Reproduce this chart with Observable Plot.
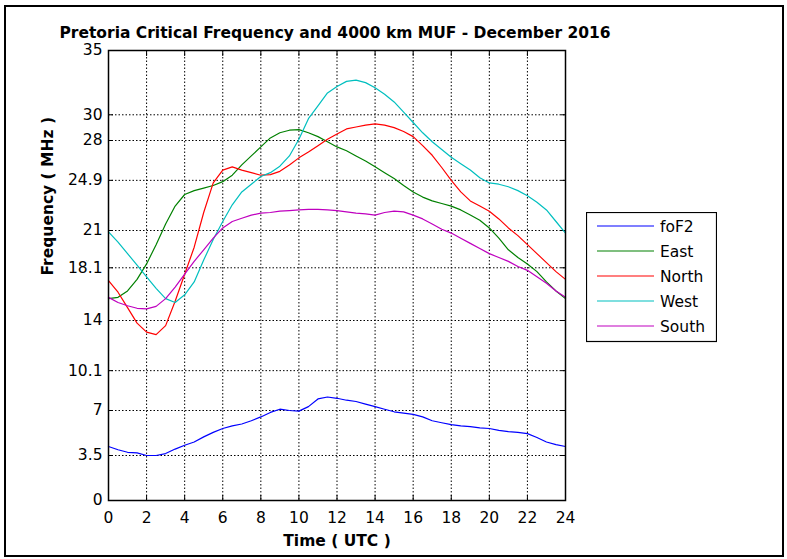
<!DOCTYPE html>
<html>
<head>
<meta charset="utf-8">
<script src="https://cdn.jsdelivr.net/npm/d3@7"></script>
<script src="https://cdn.jsdelivr.net/npm/@observablehq/plot@0.6"></script>
<style>
  body { margin: 0; background: #fff; }
  #wrap { position: relative; width: 787px; height: 559px; font-family: "DejaVu Sans", sans-serif; }
  #border { position: absolute; left: 4px; top: 5px; width: 776px; height: 548px; border: 2px solid #000; pointer-events: none; }
  #legend { position: absolute; left: 586px; top: 212px; }
</style>
</head>
<body>
<div id="wrap"><div id="chart"></div><div id="border"></div><div id="legend"></div></div>
<script>
// ---- data ----
const titleText = "Pretoria Critical Frequency and 4000 km MUF - December 2016";
const xLabel = "Time ( UTC )";
const yLabel = "Frequency ( MHz )";
const xTicks = [0, 2, 4, 6, 8, 10, 12, 14, 16, 18, 20, 22, 24];
const yTicks = [0, 3.5, 7, 10.1, 14, 18.1, 21, 24.9, 28, 30, 35];
const hours = [0,0.5,1,1.5,2,2.5,3,3.5,4,4.5,5,5.5,6,6.5,7,7.5,8,8.5,9,9.5,10,10.5,11,11.5,12,12.5,13,13.5,14,14.5,15,15.5,16,16.5,17,17.5,18,18.5,19,19.5,20,20.5,21,21.5,22,22.5,23,23.5,24];
const foF2  = [4.2,3.95,3.75,3.7,3.5,3.5,3.65,4.0,4.3,4.55,4.95,5.3,5.6,5.8,5.95,6.2,6.5,6.85,7.1,7.0,6.95,7.3,7.9,8.05,7.95,7.8,7.7,7.5,7.3,7.1,6.9,6.8,6.7,6.5,6.2,6.05,5.9,5.8,5.75,5.65,5.6,5.45,5.35,5.3,5.2,4.9,4.55,4.35,4.2];
const east  = [15.7,15.8,16.3,17.2,18.4,19.9,21.5,22.9,23.8,24.1,24.3,24.5,24.8,25.3,26.1,26.8,27.5,28.2,28.6,28.8,28.85,28.6,28.3,27.9,27.5,27.2,26.8,26.4,25.95,25.5,25.05,24.5,24.0,23.6,23.3,23.1,22.9,22.6,22.2,21.8,21.2,20.4,19.5,18.9,18.4,17.8,17.0,16.3,15.7];
const north = [17.1,16.2,15.0,13.8,13.1,12.9,13.6,15.5,17.6,19.7,22.4,24.7,25.7,25.95,25.7,25.5,25.3,25.35,25.6,26.1,26.65,27.1,27.6,28.1,28.5,28.9,29.05,29.2,29.3,29.2,29.0,28.7,28.3,27.6,26.85,25.9,24.9,24.0,23.3,22.9,22.5,21.9,21.2,20.6,19.9,19.2,18.5,17.8,17.2];
const west  = [20.9,20.1,19.2,18.3,17.4,16.5,15.7,15.4,16.0,17.0,18.7,20.3,21.7,23.0,24.0,24.6,25.2,25.5,26.0,26.8,28.1,29.7,30.7,31.7,32.2,32.6,32.7,32.5,32.1,31.6,31.0,30.2,29.4,28.6,27.9,27.3,26.7,26.2,25.7,25.1,24.7,24.6,24.4,24.1,23.7,23.2,22.6,21.7,20.8];
const south = [15.8,15.4,15.15,14.95,14.9,15.1,15.7,16.6,17.6,18.6,19.5,20.4,21.2,21.7,21.95,22.2,22.35,22.4,22.5,22.55,22.6,22.65,22.65,22.6,22.55,22.45,22.35,22.3,22.2,22.4,22.5,22.45,22.2,21.9,21.5,21.1,20.8,20.4,20.0,19.6,19.2,18.9,18.6,18.2,17.9,17.4,16.9,16.3,15.8];
const seriesNames  = ["foF2", "East", "North", "West", "South"];
const seriesValues = [foF2, east, north, west, south];
const seriesColors = ["#0000ff", "#008000", "#ff0000", "#00bfbf", "#bf00bf"];

// ---- long table ----
const rows = seriesNames.flatMap((name, s) =>
  hours.map((h, i) => ({hour: h, freq: seriesValues[s][i], series: name})));

const grid = {stroke: "#000", strokeOpacity: 1, strokeWidth: 1, strokeDasharray: "1.5,2"};

const chart = Plot.plot({
  width: 787,
  height: 559,
  marginLeft: 108,
  marginRight: 222,
  marginTop: 50,
  marginBottom: 59,
  style: {fontFamily: "DejaVu Sans, sans-serif", fontSize: "15.5px", color: "#000", background: "transparent", overflow: "visible"},
  x: {domain: [0, 24]},
  y: {domain: [0, 35]},
  color: {domain: seriesNames, range: seriesColors},
  marks: [
    Plot.gridX(xTicks, grid),
    Plot.gridY(yTicks, grid),
    Plot.axisX(xTicks, {anchor: "bottom", tickSize: 0, tickPadding: 11, label: null, tickFormat: d => String(d)}),
    Plot.axisY(yTicks, {anchor: "left", tickSize: 0, tickPadding: 6, label: null, tickFormat: d => String(d)}),
    Plot.axisY(yTicks, {anchor: "right", tickSize: -5, label: null, tickFormat: () => ""}),
    Plot.axisY(yTicks, {anchor: "left", tickSize: -5, label: null, tickFormat: () => ""}),
    Plot.axisX(xTicks, {anchor: "top", tickSize: -5, label: null, tickFormat: () => ""}),
    Plot.axisX(xTicks, {anchor: "bottom", tickSize: -5, label: null, tickFormat: () => ""}),
    Plot.line(rows, {x: "hour", y: "freq", z: "series", stroke: "series", strokeWidth: 1.2}),
    Plot.frame({stroke: "#000", strokeWidth: 1.5}),
    Plot.text([titleText], {text: d => d, frameAnchor: "top", dy: -13, dx: -2, lineAnchor: "bottom", fontWeight: "bold", fontSize: 15.5}),
    Plot.text([xLabel], {text: d => d, frameAnchor: "bottom", dy: 45, lineAnchor: "bottom", fontWeight: "bold", fontSize: 15.5}),
    Plot.text([yLabel], {text: d => d, frameAnchor: "left", dx: -56, rotate: -90, lineAnchor: "bottom", fontWeight: "bold", fontSize: 15.5})
  ]
});
document.getElementById("chart").appendChild(chart);

// ---- legend ----
const leg = d3.select("#legend").append("svg")
  .attr("width", 131).attr("height", 131)
  .style("font-family", "DejaVu Sans, sans-serif").style("font-size", "15.5px");
leg.append("rect").attr("x", 0.5).attr("y", 0.5).attr("width", 130).attr("height", 129)
  .attr("fill", "#fff").attr("stroke", "#000").attr("stroke-width", 1.2);
const item = leg.selectAll("g").data(seriesNames).join("g")
  .attr("transform", (d, i) => `translate(0,${14 + i * 25})`);
item.append("line").attr("x1", 11).attr("x2", 68).attr("y1", 0).attr("y2", 0)
  .attr("stroke", (d, i) => seriesColors[i]).attr("stroke-width", 1.2);
item.append("text").attr("x", 74).attr("y", 0).attr("dy", "0.36em").attr("fill", "#000").text(d => d);
</script>
</body>
</html>
